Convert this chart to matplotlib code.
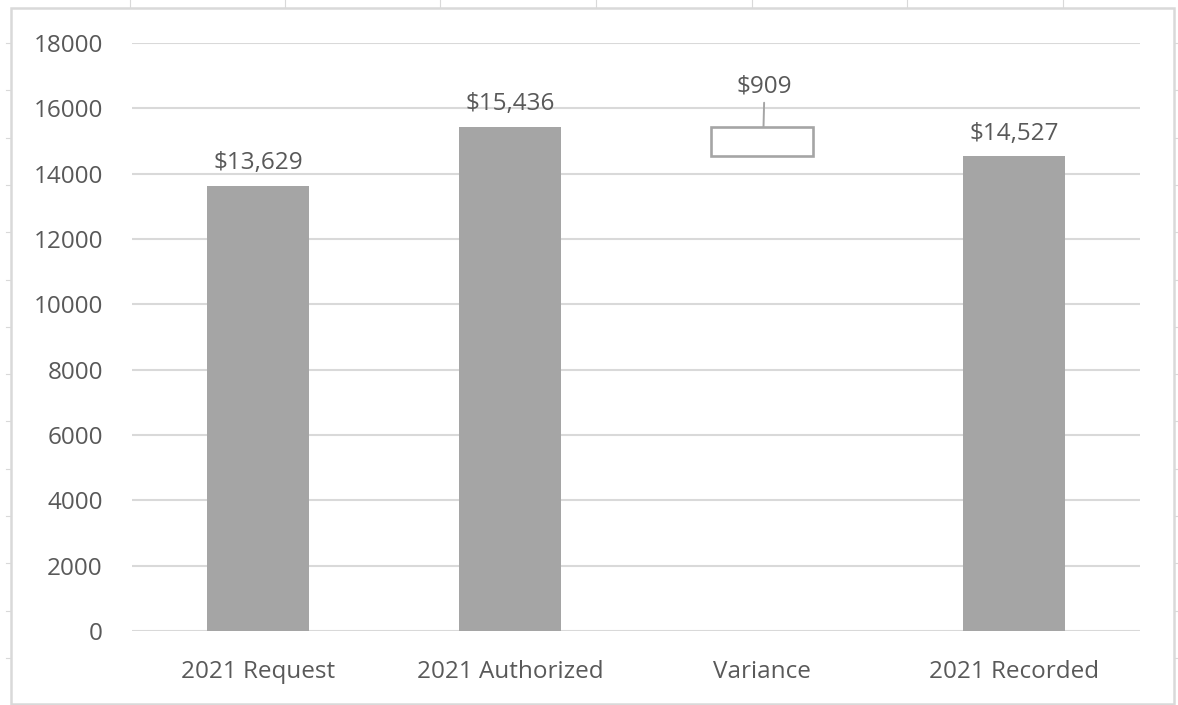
import numpy as np
import matplotlib.pyplot as plt
from matplotlib.patches import Rectangle
from matplotlib.lines import Line2D

categories = ["2021 Request", "2021 Authorized", "Variance", "2021 Recorded"]
values = [13629, 15436, 909, 14527]
labels = ["$13,629", "$15,436", "$909", "$14,527"]
yticks = [0, 2000, 4000, 6000, 8000, 10000, 12000, 14000, 16000, 18000]

BAR = "#a5a5a5"
GRID = "#d9d9d9"
TEXT = "#595959"
FS = 17.5

plt.rcParams['font.family'] = ['Open Sans', 'DejaVu Sans']

fig = plt.figure(figsize=(11.78, 7.05), dpi=100)
W, H = 1178, 705

# faint worksheet cell lines peeking around the chart frame
for xp in [130, 285, 440, 596, 752, 907, 1063]:
    fig.add_artist(Line2D([xp / W, xp / W], [1, 1 - 7 / H], color=GRID, lw=0.8))
for yp in np.arange(43, 705, 47.3):
    fig.add_artist(Line2D([6 / W, 10 / W], [1 - yp / H] * 2, color=GRID, lw=0.8))
    fig.add_artist(Line2D([1175 / W, 1], [1 - yp / H] * 2, color=GRID, lw=0.8))

# chart frame
fig.add_artist(Rectangle((11 / W, 1 / H), 1163 / W, 696 / H, transform=fig.transFigure,
                         fill=False, edgecolor=GRID, lw=1.8))

ax = fig.add_axes([132 / W, 74 / H, 1008 / W, 588 / H])
x = np.arange(len(categories))

# waterfall: variance floats between recorded and authorized
bottoms = [0, 0, values[1] - values[2], 0]
faces = [BAR, BAR, "white", BAR]
lws = [0, 0, 1.9, 0]
ax.bar(x, values, bottom=bottoms, width=0.405, color=faces,
       edgecolor=BAR, linewidth=lws, zorder=3)

for i, (v, b, lab) in enumerate(zip(values, bottoms, labels)):
    top = v + b
    if i == 2:
        ax.annotate(lab, xy=(i + 0.006, top), xytext=(i + 0.01, top + 1230),
                    ha="center", va="center", fontsize=FS, color=TEXT,
                    arrowprops=dict(arrowstyle="-", color=BAR, lw=1.4,
                                    shrinkA=1, shrinkB=0))
    else:
        ax.annotate(lab, xy=(i, top), xytext=(0, 12), textcoords="offset points",
                    ha="center", va="baseline", fontsize=FS, color=TEXT)

ax.set_xlim(-0.5, 3.5)
ax.set_ylim(0, 18000)
ax.set_yticks(yticks)
ax.set_xticks(x)
ax.set_xticklabels(categories)
ax.tick_params(axis="both", length=0, labelsize=FS, labelcolor=TEXT)
ax.tick_params(axis="y", pad=21)
ax.tick_params(axis="x", pad=21)
ax.grid(axis="y", color=GRID, lw=1.5, zorder=0)
ax.set_axisbelow(True)
for s in ax.spines.values():
    s.set_visible(False)

fig.savefig("out.png", dpi=100)
